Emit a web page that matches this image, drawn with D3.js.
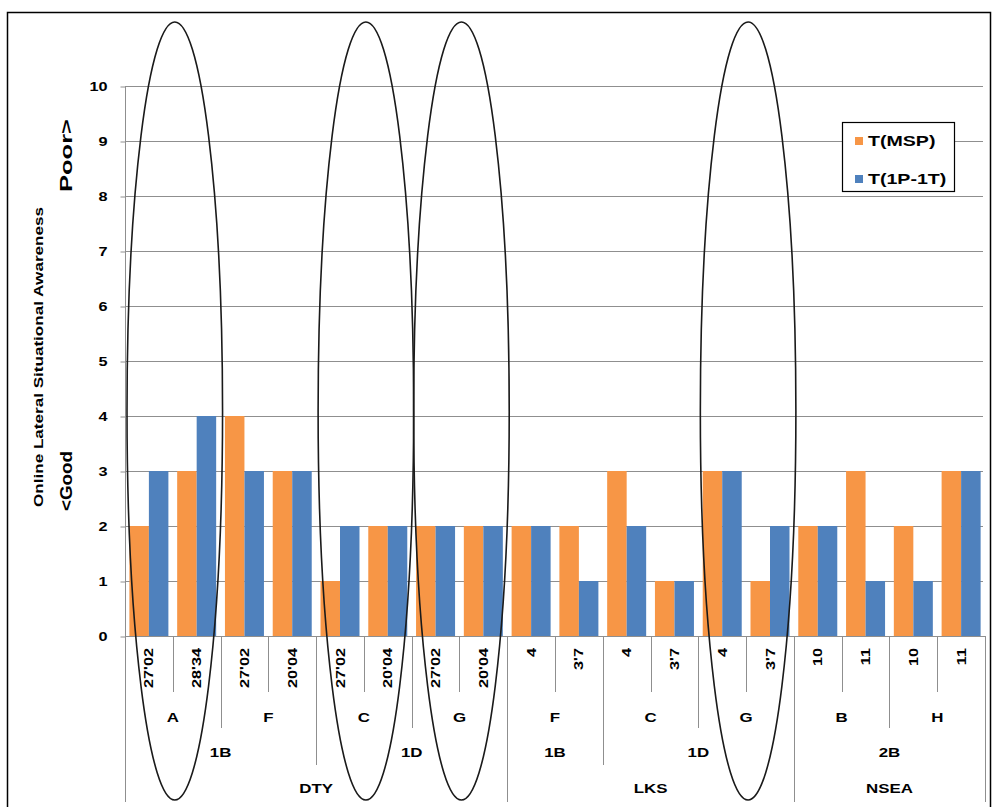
<!DOCTYPE html>
<html>
<head>
<meta charset="utf-8">
<script src="https://cdn.jsdelivr.net/npm/d3@7"></script>
<style>
  html, body { margin: 0; padding: 0; background: #fff; }
  svg text { font-family: "Liberation Sans", Arial, sans-serif; font-weight: bold; fill: #000; }
</style>
</head>
<body>
<svg id="chart" width="996" height="807"></svg>
<script>
// ---------------- DATA ----------------
const leafLabels = ["27'02","28'34","27'02","20'04","27'02","20'04","27'02","20'04","4","3'7","4","3'7","4","3'7","10","11","10","11"];
const level2 = ["A","A","F","F","C","C","G","G","F","F","C","C","G","G","B","B","H","H"];
const level3 = ["1B","1B","1B","1B","1D","1D","1D","1D","1B","1B","1D","1D","1D","1D","2B","2B","2B","2B"];
const level4 = ["DTY","DTY","DTY","DTY","DTY","DTY","DTY","DTY","LKS","LKS","LKS","LKS","LKS","LKS","NSEA","NSEA","NSEA","NSEA"];
const seriesNames = ["T(MSP)", "T(1P-1T)"];
const mspValues = [2,3,4,3,1,2,2,2,2,2,3,1,3,1,2,3,2,3];
const tpValues  = [3,4,3,3,2,2,2,2,2,1,2,1,3,2,2,1,1,3];
const yTicks = [0,1,2,3,4,5,6,7,8,9,10];
const yTitle = "Online Lateral Situational Awareness";
const yTitleLow = "<Good";
const yTitleHigh = "Poor>";
// annotated groups (start index of two-category group circled by ellipse)
const ellipseGroupStarts = [0, 4, 6, 12];

// ---------------- LAYOUT ----------------
(function () {
const colors = ["#F79646", "#4F81BD"];
const SX = 1.25; // horizontal text stretch seen in the reference rendering
const svg = d3.select("#chart");
const pL = 125, pR = 985, pT = 86, pB = 636;
const idx = d3.range(leafLabels.length);

const x = d3.scaleBand().domain(idx).range([pL, pR]).paddingInner(0).paddingOuter(0);
const bw = x.bandwidth();
const xs = d3.scaleBand().domain([0, 1]).range([0, bw]).paddingInner(0).paddingOuter(0.225);
const y = d3.scaleLinear().domain([0, 10]).range([pB, pT]);

// outer frame
svg.append("rect").attr("x", 7.5).attr("y", 12.5).attr("width", 983).attr("height", 820)
  .attr("fill", "none").attr("stroke", "#000").attr("stroke-width", 1.5);

// gridlines
svg.append("g").selectAll("line").data(yTicks.filter(d => d > 0)).join("line")
  .attr("x1", pL).attr("x2", pR - 2)
  .attr("y1", d => Math.round(y(d)) + 0.5).attr("y2", d => Math.round(y(d)) + 0.5)
  .attr("stroke", "#8f8f8f").attr("stroke-width", 1);

// y axis
const yAxis = d3.axisLeft(y).tickValues(yTicks).tickSize(5).tickPadding(13).tickFormat(d3.format("d"));
const gy = svg.append("g").attr("transform", `translate(${pL + 0.5},0.5)`).call(yAxis);
gy.select(".domain").attr("stroke", "#8f8f8f").attr("d", `M0,${pT}V${pB}`);
gy.selectAll(".tick line").attr("stroke", "#8f8f8f");
gy.selectAll(".tick text")
  .attr("font-size", 13).attr("font-family", "Liberation Sans, Arial, sans-serif").attr("font-weight", "bold")
  .attr("x", -18 / SX).attr("transform", `scale(${SX},1)`);

// bars
const series = [mspValues, tpValues];
series.forEach((vals, s) => {
  svg.append("g").selectAll("rect").data(vals).join("rect")
    .attr("x", (d, i) => x(i) + xs(s))
    .attr("width", xs.bandwidth())
    .attr("y", d => y(d))
    .attr("height", d => y(0) - y(d))
    .attr("fill", colors[s]);
});

// x axis baseline
svg.append("line").attr("x1", pL).attr("x2", pR).attr("y1", pB + 0.5).attr("y2", pB + 0.5)
  .attr("stroke", "#8f8f8f");

// category separators (multi-level)
const levelBottom = {1: 692, 2: 728, 3: 765, 4: 802};
const boundaries = d3.range(leafLabels.length + 1).map(i => {
  let lev = 1;
  if (i === 0 || i === leafLabels.length) lev = 4;
  else if (level4[i] !== level4[i-1]) lev = 4;
  else if (level3[i] !== level3[i-1]) lev = 3;
  else if (level2[i] !== level2[i-1]) lev = 2;
  const xp = i === leafLabels.length ? pR : x(i);
  return {xp, lev};
});
svg.append("g").selectAll("line").data(boundaries).join("line")
  .attr("x1", d => Math.round(d.xp) + 0.5).attr("x2", d => Math.round(d.xp) + 0.5)
  .attr("y1", pB).attr("y2", d => levelBottom[d.lev])
  .attr("stroke", "#8f8f8f");

// leaf labels rotated
svg.append("g").selectAll("text").data(leafLabels).join("text")
  .attr("transform", (d, i) => `translate(${x(i) + bw / 2 + 4.5},648) rotate(-90) scale(1.3,1)`)
  .attr("text-anchor", "end")
  .attr("font-size", 12.5)
  .text(d => d);

// group labels
function spans(arr, parents) {
  const out = [];
  let start = 0;
  for (let i = 1; i <= arr.length; i++) {
    const changed = i === arr.length || arr[i] !== arr[start] || parents.some(p => p[i] !== p[start]);
    if (changed) { out.push({label: arr[start], s: start, e: i}); start = i; }
  }
  return out;
}
const lvlDefs = [
  {arr: level2, parents: [level3, level4], yy: 717},
  {arr: level3, parents: [level4], yy: 752},
  {arr: level4, parents: [], yy: 788}
];
lvlDefs.forEach(L => {
  svg.append("g").selectAll("text").data(spans(L.arr, L.parents)).join("text")
    .attr("transform", d => `translate(${(x(d.s) + (d.e === leafLabels.length ? pR : x(d.e))) / 2},${L.yy}) scale(${SX},1)`)
    .attr("dy", "0.35em")
    .attr("text-anchor", "middle")
    .attr("font-size", 13.5)
    .text(d => d.label);
});

// y axis titles
svg.append("text").attr("transform", "translate(43,357) rotate(-90)")
  .attr("text-anchor", "middle").attr("font-size", 13.5)
  .attr("textLength", 300).attr("lengthAdjust", "spacingAndGlyphs").text(yTitle);
svg.append("text").attr("transform", "translate(72,511) rotate(-90)")
  .attr("text-anchor", "start").attr("font-size", 16)
  .attr("textLength", 60).attr("lengthAdjust", "spacingAndGlyphs").text(yTitleLow);
svg.append("text").attr("transform", "translate(72,192) rotate(-90)")
  .attr("text-anchor", "start").attr("font-size", 16)
  .attr("textLength", 73).attr("lengthAdjust", "spacingAndGlyphs").text(yTitleHigh);

// legend
const lg = svg.append("g");
lg.append("rect").attr("x", 842.5).attr("y", 122.5).attr("width", 112).attr("height", 69)
  .attr("fill", "#fff").attr("stroke", "#000").attr("stroke-width", 1.2);
seriesNames.forEach((n, i) => {
  const yy = 141 + i * 38;
  lg.append("rect").attr("x", 855).attr("y", yy - 4).attr("width", 8).attr("height", 8).attr("fill", colors[i]);
  lg.append("text").attr("transform", `translate(868,${yy}) scale(1.4,1)`).attr("dy", "0.35em").attr("font-size", 14).text(n);
});

// ellipse annotations
svg.append("g").selectAll("ellipse").data(ellipseGroupStarts).join("ellipse")
  .attr("cx", d => x(d) + bw + 2)
  .attr("cy", 411)
  .attr("rx", bw)
  .attr("ry", 389)
  .attr("fill", "none")
  .attr("stroke", "#1a1a1a")
  .attr("stroke-width", 1.6);
})();
</script>
</body>
</html>
